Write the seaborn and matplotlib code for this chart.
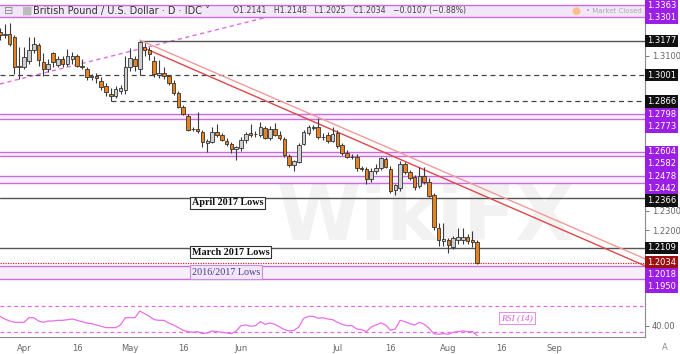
import numpy as np
import pandas as pd
import seaborn as sns
import matplotlib.pyplot as plt

# GBP/USD daily candles, 25 Mar - 9 Aug (weekdays)
opens = [1.3225, 1.3205, 1.3215, 1.3195, 1.3042,
         1.3042, 1.3073, 1.3130, 1.3156, 1.3068, 1.3032, 1.3114, 1.3052, 1.3083, 1.3060,
         1.3085, 1.3100, 1.3050, 1.3032, 1.2991, 1.2995, 1.2970, 1.2945, 1.2905, 1.2895,
         1.2920, 1.2924, 1.3040, 1.3085, 1.3032, 1.3145, 1.3130, 1.3075, 1.3000, 1.3010,
         1.2995, 1.2960, 1.2910, 1.2836, 1.2790, 1.2722, 1.2725, 1.2707, 1.2650, 1.2655,
         1.2707, 1.2690, 1.2660, 1.2645, 1.2618, 1.2625, 1.2666, 1.2700, 1.2695, 1.2692,
         1.2728, 1.2676, 1.2725, 1.2690, 1.2671, 1.2583, 1.2537, 1.2552, 1.2645, 1.2702,
         1.2728, 1.2733, 1.2681, 1.2692, 1.2661, 1.2702, 1.2640, 1.2597, 1.2580, 1.2578,
         1.2521, 1.2516, 1.2465, 1.2505, 1.2521, 1.2570, 1.2516, 1.2406, 1.2418, 1.2542,
         1.2500, 1.2475, 1.2428, 1.2480, 1.2449, 1.2382, 1.2212, 1.2145, 1.2150, 1.2115,
         1.2150, 1.2150, 1.2165, 1.2148, 1.2141]
highs = [1.3245, 1.3262, 1.3268, 1.3205, 1.3145,
         1.3145, 1.3197, 1.3197, 1.3165, 1.3115, 1.3085, 1.3120, 1.3100, 1.3100, 1.3135,
         1.3120, 1.3110, 1.3085, 1.3045, 1.3005, 1.3010, 1.2990, 1.2960, 1.2935, 1.2945,
         1.2950, 1.3100, 1.3140, 1.3100, 1.3177, 1.3165, 1.3145, 1.3100, 1.3080, 1.3045,
         1.3000, 1.2975, 1.2920, 1.2845, 1.2800, 1.2735, 1.2810, 1.2720, 1.2670, 1.2735,
         1.2748, 1.2700, 1.2675, 1.2655, 1.2635, 1.2680, 1.2705, 1.2748, 1.2710, 1.2760,
         1.2740, 1.2740, 1.2755, 1.2710, 1.2680, 1.2595, 1.2565, 1.2650, 1.2720, 1.2745,
         1.2745, 1.2779, 1.2700, 1.2705, 1.2733, 1.2715, 1.2650, 1.2612, 1.2592, 1.2595,
         1.2532, 1.2525, 1.2520, 1.2540, 1.2580, 1.2580, 1.2530, 1.2440, 1.2558, 1.2550,
         1.2510, 1.2485, 1.2525, 1.2525, 1.2470, 1.2390, 1.2240, 1.2240, 1.2160, 1.2170,
         1.2210, 1.2210, 1.2180, 1.2195, 1.2148]
lows = [1.3180, 1.3190, 1.3150, 1.3005, 1.2980,
        1.3030, 1.3060, 1.3115, 1.3050, 1.2995, 1.3015, 1.3040, 1.3040, 1.3040, 1.3050,
        1.3060, 1.3045, 1.3030, 1.2975, 1.2975, 1.2960, 1.2925, 1.2895, 1.2866, 1.2880,
        1.2905, 1.2905, 1.3020, 1.3020, 1.3000, 1.3100, 1.3080, 1.2990, 1.2985, 1.2980,
        1.2950, 1.2900, 1.2830, 1.2795, 1.2710, 1.2710, 1.2700, 1.2630, 1.2604, 1.2650,
        1.2680, 1.2660, 1.2635, 1.2600, 1.2563, 1.2610, 1.2650, 1.2680, 1.2680, 1.2680,
        1.2670, 1.2665, 1.2685, 1.2665, 1.2580, 1.2525, 1.2506, 1.2545, 1.2640, 1.2690,
        1.2715, 1.2670, 1.2665, 1.2650, 1.2655, 1.2625, 1.2590, 1.2575, 1.2570, 1.2508,
        1.2505, 1.2440, 1.2450, 1.2490, 1.2510, 1.2520, 1.2390, 1.2382, 1.2405, 1.2490,
        1.2460, 1.2410, 1.2420, 1.2440, 1.2370, 1.2200, 1.2120, 1.2120, 1.2082, 1.2105,
        1.2130, 1.2130, 1.2130, 1.2115, 1.2025]
closes = [1.3205, 1.3215, 1.3160, 1.3042, 1.3050,
          1.3094, 1.3130, 1.3160, 1.3078, 1.3032, 1.3060, 1.3068, 1.3083, 1.3060, 1.3100,
          1.3100, 1.3050, 1.3045, 1.2991, 1.2995, 1.2985, 1.2940, 1.2915, 1.2895, 1.2930,
          1.2935, 1.3040, 1.3090, 1.3050, 1.3171, 1.3130, 1.3110, 1.3006, 1.3010, 1.2995,
          1.2960, 1.2910, 1.2836, 1.2800, 1.2717, 1.2724, 1.2712, 1.2655, 1.2660, 1.2707,
          1.2690, 1.2665, 1.2645, 1.2620, 1.2630, 1.2666, 1.2697, 1.2690, 1.2697, 1.2733,
          1.2676, 1.2725, 1.2692, 1.2675, 1.2590, 1.2535, 1.2556, 1.2640, 1.2707, 1.2733,
          1.2733, 1.2681, 1.2680, 1.2661, 1.2697, 1.2635, 1.2599, 1.2580, 1.2578, 1.2521,
          1.2518, 1.2465, 1.2505, 1.2521, 1.2573, 1.2527, 1.2403, 1.2432, 1.2542, 1.2500,
          1.2470, 1.2423, 1.2480, 1.2449, 1.2377, 1.2217, 1.2150, 1.2155, 1.2125, 1.2160,
          1.2165, 1.2168, 1.2145, 1.2141, 1.2034]
rsi = [54, 50, 47, 45, 45,
       45, 52, 52, 47, 45, 47, 47, 48, 48, 49,
       50, 48, 46, 44, 43, 41, 39, 37, 37, 37,
       41, 52, 52, 52, 62, 58, 54, 49, 48, 48,
       44, 41, 37, 33, 31, 30, 31, 28, 29, 32,
       31, 30, 29, 28, 32, 40, 41, 39, 40, 46,
       42, 44, 42, 38, 34, 32, 33, 38, 51, 54,
       54, 51, 52, 50, 49, 45, 42, 40, 40, 35,
       34, 31, 38, 41, 44, 41, 33, 35, 48, 46,
       43, 41, 45, 42, 36, 28, 27, 28, 27, 30,
       31, 32, 31, 31, 25]

# horizontal levels
purple_zones = [(1.3363, 1.3301), (1.2798, 1.2773), (1.2604, 1.2582),
                (1.2478, 1.2442), (1.2018, 1.1950)]
black_levels = [1.3177, 1.3001, 1.2866, 1.2366, 1.2109]
last_close = 1.2034
notes = [("April 2017 Lows", 1.2342), ("March 2017 Lows", 1.2088)]
zone_note = ("2016/2017 Lows", 1.1985)

tick_dates = ["2019-04-01", "2019-04-16", "2019-05-01", "2019-05-16", "2019-06-03",
              "2019-07-01", "2019-07-16", "2019-08-01", "2019-08-16", "2019-09-02"]
tick_names = ["Apr", "16", "May", "16", "Jun", "Jul", "16", "Aug", "16", "Sep"]

sns.set_style("white")
plt.rcParams["font.family"] = ["DejaVu Sans"]

dates = pd.bdate_range("2019-03-25", "2019-10-15")
n = len(closes)
df = pd.DataFrame({"date": dates[:n], "open": opens, "high": highs, "low": lows,
                   "close": closes, "rsi": rsi})
df["x"] = np.arange(n)
pos = {d: i for i, d in enumerate(dates)}
def xi(d):
    return pos[pd.Timestamp(d)]

W, H = 680, 354
fig = plt.figure(figsize=(W / 100, H / 100), dpi=100)
ax = fig.add_axes([0, 1 - 304 / H, 645 / W, 304 / H])
ax_r = fig.add_axes([0, 1 - 337 / H, 645 / W, 33 / H])

x_lo, x_hi = 0.0, 133.8
y_lo, y_hi = 1.1820, 1.3388
ax.set_xlim(x_lo, x_hi)
ax.set_ylim(y_lo, y_hi)
ppp = (y_hi - y_lo) / 304

# zones
for top, bot in purple_zones:
    fc = "#f3e6f8" if top > 1.33 else "#f7eefb"
    ax.axhspan(bot, top, color=fc, zorder=1.5 if top > 1.33 else 0.5, lw=0)
    for lv in (top, bot):
        ax.axhline(lv, color="#c86ddc", lw=1.0, zorder=1.6)

# pink dashed up-trend (hidden under header band)
ax.plot([xi("2019-03-25"), xi("2019-06-14")], [1.2955, 1.3322],
        color="#e36be6", lw=1.0, ls=(0, (3, 2.5)), zorder=1)

# black levels
ax.hlines(1.3177, xi("2019-05-03"), x_hi, color="#555555", lw=1.0, zorder=1)
ax.axhline(1.3001, color="#444444", lw=0.9, ls=(0, (4, 3)), zorder=1)
ax.hlines(1.2866, xi("2019-04-25"), x_hi, color="#444444", lw=0.9, ls=(0, (4, 3)), zorder=1)
ax.axhline(1.2366, color="#555555", lw=1.0, zorder=1)
ax.axhline(1.2109, color="#555555", lw=1.0, zorder=1)
ax.axhline(last_close, color="#c62828", lw=0.9, ls=(0, (1, 1)), zorder=1)

# falling trendlines from the May high
ax.plot([xi("2019-05-03"), xi("2019-09-27")], [1.3181, 1.2051], color="#f29a9a", lw=1.0, zorder=2)
ax.plot([xi("2019-05-03"), xi("2019-09-27")], [1.3150, 1.2015], color="#e0464a", lw=1.0, zorder=2)

# watermark
ax.text(0.66, 0.28, "WikiFX", transform=ax.transAxes, fontsize=55, fontweight="bold",
        color="#000000", alpha=0.05, ha="center", va="center", zorder=0.2)

# candles
up = df["close"] >= df["open"]
ax.vlines(df["x"], df["low"], df["high"], color="#3a3a3a", lw=0.8, zorder=3)
body_lo = np.minimum(df["open"], df["close"])
body_h = np.maximum((df["close"] - df["open"]).abs(), 0.00025)
ax.bar(df["x"], body_h, bottom=body_lo, width=0.74,
       color=np.where(up, "#cfcfcf", "#e8821e"), edgecolor="#333333", linewidth=0.6, zorder=4)

# notes
for txt, y in notes:
    ax.text(192 / 645, y, txt, transform=ax.get_yaxis_transform(), fontsize=7.3,
            family="Liberation Serif", fontweight="bold", color="#111111", va="center", zorder=5,
            bbox=dict(boxstyle="square,pad=0.15", fc="white", ec="#333333", lw=0.8))
ax.text(192 / 645, zone_note[1], zone_note[0], transform=ax.get_yaxis_transform(), fontsize=7.3,
        family="Liberation Serif", color="#4b3a8c", va="center", zorder=5,
        bbox=dict(boxstyle="square,pad=0.2", fc="#f3e6f8", ec="#c98ee0", lw=0.8))

# header inside the top band
hy = 1.3332
tr = ax.get_yaxis_transform()
ax.text(4 / 645, hy, "\u229f", transform=tr, fontsize=8, color="#888888", va="center", zorder=6)
ax.text(22 / 645, hy, "\u25a0", transform=tr, fontsize=8, color="#bbbbbb", va="center", zorder=6)
ax.text(33 / 645, hy, "British Pound / U.S. Dollar \u00b7 D \u00b7 IDC \u02c5", transform=tr,
        fontsize=7.0, color="#333333", va="center", zorder=6)
ax.text(233 / 645, hy, "O1.2141   H1.2148   L1.2025   C1.2034   \u22120.0107 (\u22120.88%)",
        transform=tr, fontsize=5.6, color="#444444", va="center", zorder=6)
ax.text(571 / 645, hy, "\u25cf", transform=tr, fontsize=7.5, color="#f6c08a", va="center", zorder=6)
ax.text(586 / 645, hy, "\u2022 Market Closed", transform=tr, fontsize=5.0, color="#aaaaaa",
        va="center", zorder=6)

# value tags on the price axis
tags = [(v, "#9a1ee6") for pair in purple_zones for v in pair]
tags += [(v, "#111111") for v in black_levels]
tags += [(last_close, "#9b1010")]
tags.sort(key=lambda t: -t[0])
prev = None
tag_px = []
for v, col in tags:
    ypx = max((y_hi - v) / ppp, 6.0)
    if prev is not None and ypx - prev < 12:
        ypx = prev + 12
    prev = ypx
    tag_px.append(ypx)
    ax.annotate(f"{v:.4f}", xy=(1, y_hi - ypx * ppp), xycoords=("axes fraction", "data"),
                xytext=(1.5, 0), textcoords="offset points", fontsize=6.0, color="white",
                va="center", ha="left", annotation_clip=False, zorder=7,
                bbox=dict(boxstyle="square,pad=0.22", fc=col, ec="none"))

# price axis: plain ticks only where no tag sits on top
ticks = [t for t in np.arange(1.19, 1.34, 0.01)
         if min(abs((y_hi - t) / ppp - p) for p in tag_px) >= 9]
ax.yaxis.tick_right()
ax.set_yticks(ticks)
ax.yaxis.set_major_formatter(plt.FuncFormatter(lambda v, p: f"{v:.4f}"))
ax.tick_params(axis="y", labelsize=6.0, colors="#666666", length=3, width=0.6, pad=2)
ax.tick_params(axis="x", bottom=False, labelbottom=False)
for s in ("top", "left"):
    ax.spines[s].set_visible(False)
for s in ("right", "bottom"):
    ax.spines[s].set_color("#8a8a8a")
    ax.spines[s].set_linewidth(0.8)

# RSI panel
ax_r.set_xlim(x_lo, x_hi)
ax_r.set_ylim(22.9, 72.6)
ax_r.axhline(70, color="#e36be6", lw=0.9, ls=(0, (3, 2.5)))
ax_r.axhline(30, color="#e36be6", lw=0.9, ls=(0, (3, 2.5)))
sns.lineplot(data=df, x="x", y="rsi", ax=ax_r, color="#ea6fe6", lw=0.9)
ax_r.text(517 / 645, 0.58, "RSI (14)", transform=ax_r.transAxes, fontsize=6.8,
          family="Liberation Serif", style="italic", color="#e060dc", ha="center", va="center",
          bbox=dict(boxstyle="square,pad=0.2", fc="white", ec="#e88be6", lw=0.7))
ax_r.yaxis.tick_right()
ax_r.set_yticks([40])
ax_r.yaxis.set_major_formatter(plt.FuncFormatter(lambda v, p: f"{v:.2f}"))
ax_r.set_xticks([xi(d) for d in tick_dates])
ax_r.set_xticklabels(tick_names)
ax_r.set_xlabel("")
ax_r.set_ylabel("")
ax_r.tick_params(labelsize=6.0, colors="#666666", length=3, width=0.6, pad=2)
ax_r.spines["top"].set_visible(False)
ax_r.spines["left"].set_visible(False)
for s in ("right", "bottom"):
    ax_r.spines[s].set_color("#8a8a8a")
    ax_r.spines[s].set_linewidth(0.8)
fig.text(665 / W, 1 - 348 / H, "A", fontsize=6, color="#888888", ha="center", va="center")

fig.savefig("out.png", dpi=100)
